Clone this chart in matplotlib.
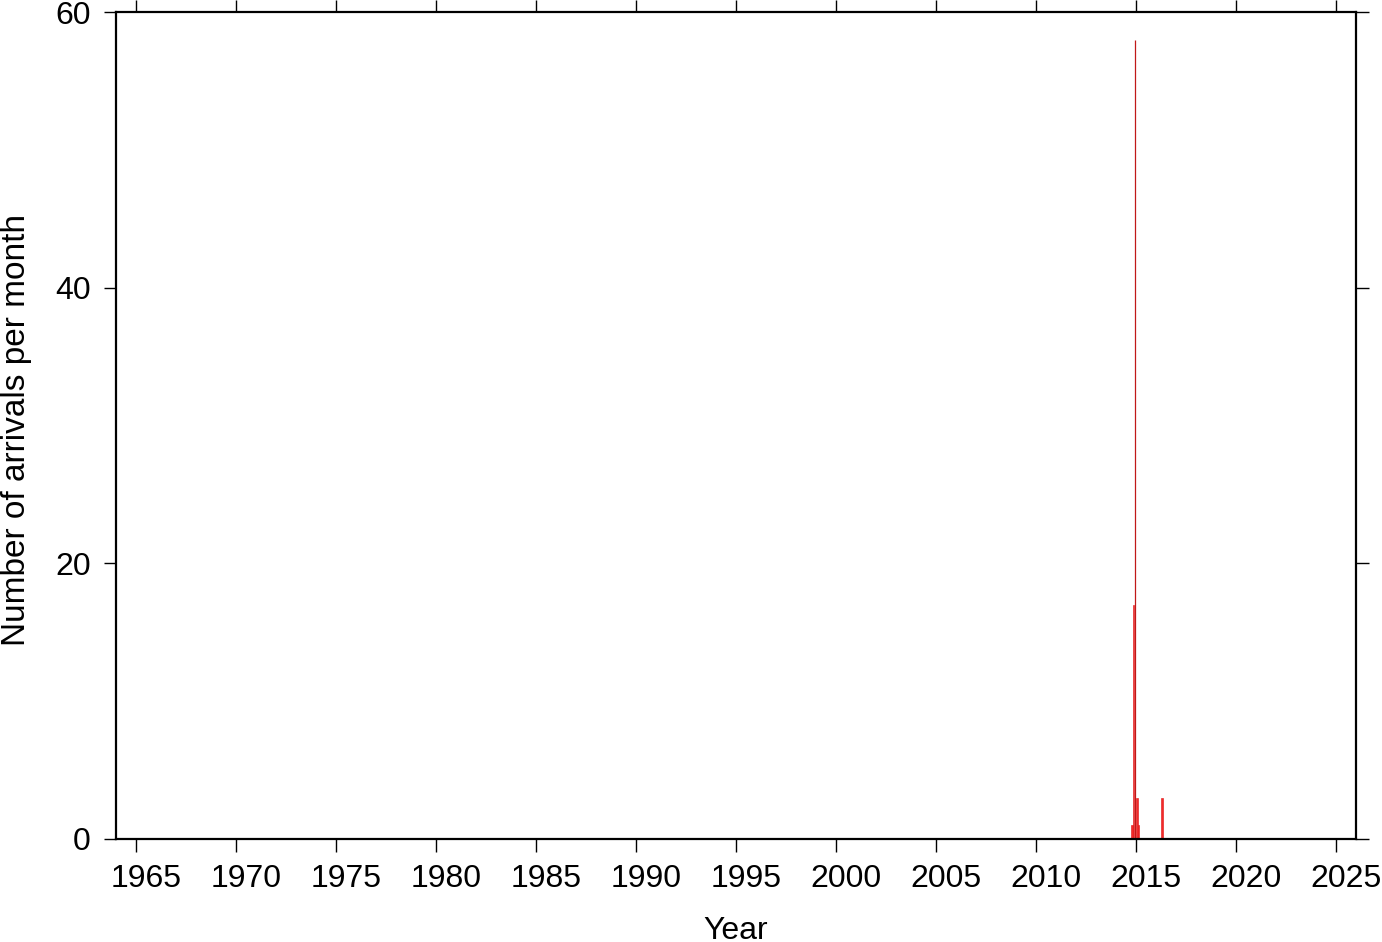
import matplotlib.pyplot as plt
from matplotlib.transforms import ScaledTranslation

plt.rcParams['font.family'] = ['Liberation Sans', 'DejaVu Sans']

# monthly bins (start of month, decimal year) and counts
month_start = [2014.75, 2014 + 10 / 12, 2015.0, 2015 + 1 / 12, 2016.25]
counts = [1, 17, 3, 1, 3]
# single spike drawn as a thin line
spike_x = [2014.96]
spike_count = [58]

year_ticks = list(range(1965, 2030, 5))
count_ticks = [0, 20, 40, 60]

fig = plt.figure(figsize=(13.82, 9.42), dpi=100)
ax = fig.add_axes([116 / 1382, 103 / 942, 1240 / 1382, 827 / 942])

ax.bar(month_start, counts, width=1 / 12, align='edge', color='#f22a2a',
       edgecolor='#e01010', linewidth=0.4)
ax.vlines(spike_x, 0, spike_count, color='#c01818', linewidth=0.9)

ax.set_xlim(1964, 2026)
ax.set_ylim(0, 60)
ax.set_xticks(year_ticks)
ax.set_yticks(count_ticks)
ax.tick_params(axis='both', which='both', direction='out', length=9, width=1,
               labelsize=23, top=True, right=True)
ax.tick_params(axis='x', pad=9)
ax.tick_params(axis='y', pad=9)
for s in ax.spines.values():
    s.set_linewidth(1.6)

# year labels sit a little right of their ticks
shift = ScaledTranslation(10 / 100, 0, fig.dpi_scale_trans)
for lab in ax.get_xticklabels():
    lab.set_transform(lab.get_transform() + shift)

ax.set_xlabel('Year', fontsize=23, labelpad=16)
ax.set_ylabel('Number of arrivals per month', fontsize=24, labelpad=17)
ax.yaxis.label.set_y(0.4946)

fig.savefig('out.png', dpi=100)
